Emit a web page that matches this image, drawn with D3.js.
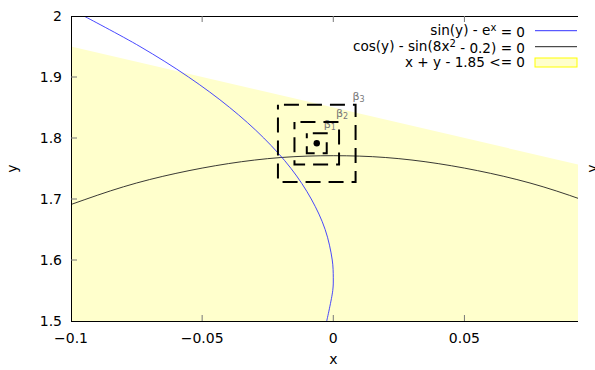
<!DOCTYPE html>
<html>
<head>
<meta charset="utf-8">
<script src="https://cdn.jsdelivr.net/npm/d3@7"></script>
<style>
  body { margin: 0; background: #fff; }
  svg { display: block; font-family: "DejaVu Sans", sans-serif; }
</style>
</head>
<body>
<script>
const width = 595;
const height = 370;

// sin(y) - e^x = 0, read along y
const blueY = [1.50, 1.55, 1.5708, 1.60, 1.65, 1.70, 1.75, 1.80, 1.85, 1.90, 1.95, 2.00];
const blueX = [-0.0025, -0.0002, 0, -0.0004, -0.0031, -0.0084, -0.0161, -0.0265, -0.0395, -0.0552, -0.0737, -0.0951];

// cos(y) - sin(8x^2 - 0.2) = 0
const blackX = [-0.10, -0.08, -0.06, -0.04, -0.02, 0, 0.02, 0.04, 0.06, 0.08, 0.10];
const blackY = [1.691, 1.720, 1.742, 1.758, 1.768, 1.771, 1.768, 1.758, 1.742, 1.720, 1.691];

// x + y - 1.85 <= 0 (upper edge of the region)
const regionX = [-0.10, 0.10];
const regionTop = [1.95, 1.75];

// point and the three nested boxes around it
const pointX = -0.0063;
const pointY = 1.7913;
const boxNames = ['1', '2', '3'];
const boxHalfX = [0.0038, 0.0085, 0.0148];
const boxHalfY = [0.0164, 0.0348, 0.0634];

const xTicks = [-0.1, -0.05, 0, 0.05];
const yTicks = [1.5, 1.6, 1.7, 1.8, 1.9, 2];

const legendLabels = ['sin(y) - e', 'cos(y) - sin(8x', 'x + y - 1.85 <= 0'];

const margin = { top: 16, right: 17, bottom: 49, left: 71 };

const x = d3.scaleLinear([-0.1, 0.0933], [margin.left, width - margin.right]);
const y = d3.scaleLinear([1.5, 2], [height - margin.bottom, margin.top]);

const svg = d3.select('body')
  .append('svg')
  .attr('width', width)
  .attr('height', height)
  .style('font-size', '14px');

svg.append('clipPath')
  .attr('id', 'plot-clip')
  .append('rect')
    .attr('x', margin.left)
    .attr('y', margin.top)
    .attr('width', x.range()[1] - margin.left)
    .attr('height', y.range()[0] - margin.top);

const plot = svg.append('g').attr('clip-path', 'url(#plot-clip)');

// feasible region
const regionPts = [[regionX[0], 1.5]]
  .concat(regionX.map((d, i) => [d, regionTop[i]]))
  .concat([[regionX[1], 1.5]]);

plot.append('path')
  .attr('d', d3.line().x(d => x(d[0])).y(d => y(d[1]))(regionPts) + 'Z')
  .attr('fill', '#ffffcc');

plot.append('path')
  .datum(blackX.map((d, i) => [d, blackY[i]]))
  .attr('fill', 'none')
  .attr('stroke', '#222')
  .attr('stroke-width', 0.9)
  .attr('d', d3.line().curve(d3.curveNatural).x(d => x(d[0])).y(d => y(d[1])));

plot.append('path')
  .datum(blueY.map((d, i) => [blueX[i], d]))
  .attr('fill', 'none')
  .attr('stroke', '#3333ff')
  .attr('stroke-width', 0.9)
  .attr('d', d3.line().curve(d3.curveCatmullRom).x(d => x(d[0])).y(d => y(d[1])));

// boxes
const boxes = svg.append('g')
  .selectAll('g')
  .data(boxNames.map((name, i) => ({ name, hx: boxHalfX[i], hy: boxHalfY[i] })))
  .join('g');

boxes.append('rect')
  .attr('x', d => x(pointX - d.hx))
  .attr('y', d => y(pointY + d.hy))
  .attr('width', d => x(pointX + d.hx) - x(pointX - d.hx))
  .attr('height', d => y(pointY - d.hy) - y(pointY + d.hy))
  .attr('fill', 'none')
  .attr('stroke', '#000')
  .attr('stroke-width', 2)
  .attr('stroke-dasharray', '15,8')
  .attr('stroke-dashoffset', -6);

const boxLabel = boxes.append('text')
  .attr('x', d => x(pointX + d.hx) - 3)
  .attr('y', d => y(pointY + d.hy) - 5)
  .attr('fill', '#777')
  .style('font-size', '11px')
  .text('β');

boxLabel.append('tspan')
  .attr('dy', 2)
  .style('font-size', '8px')
  .text(d => d.name);

svg.append('circle')
  .attr('cx', x(pointX))
  .attr('cy', y(pointY))
  .attr('r', 3.2)
  .attr('fill', '#000');

// border
const x0 = margin.left, x1 = x.range()[1];
const yb = y.range()[0], yt = margin.top;
svg.append('path')
  .attr('d', `M${x1},${yt}H${x0}V${yb}H${x1}`)
  .attr('fill', 'none')
  .attr('stroke', '#000')
  .attr('stroke-width', 1)
  .attr('shape-rendering', 'crispEdges');

// ticks, inward
const tickLen = 6;
svg.append('g')
  .selectAll('line')
  .data(xTicks.slice(1))
  .join('line')
    .attr('x1', d => x(d)).attr('x2', d => x(d))
    .attr('y1', yb).attr('y2', yb - tickLen)
    .attr('stroke', '#777');

svg.append('g')
  .selectAll('line')
  .data(xTicks.slice(1))
  .join('line')
    .attr('x1', d => x(d)).attr('x2', d => x(d))
    .attr('y1', yt).attr('y2', yt + tickLen)
    .attr('stroke', '#777');

svg.append('g')
  .selectAll('line')
  .data(yTicks.slice(1, -1))
  .join('line')
    .attr('x1', x0).attr('x2', x0 + tickLen)
    .attr('y1', d => y(d)).attr('y2', d => y(d))
    .attr('stroke', '#777');

// tick labels
svg.append('g')
  .selectAll('text')
  .data(xTicks)
  .join('text')
    .attr('x', d => x(d))
    .attr('y', yb + 22)
    .attr('text-anchor', 'middle')
    .text(d => d3.format('')(d));

svg.append('g')
  .selectAll('text')
  .data(yTicks)
  .join('text')
    .attr('x', x0 - 9)
    .attr('y', d => y(d))
    .attr('dy', '0.35em')
    .attr('text-anchor', 'end')
    .text(d => d3.format('')(d));

// axis titles
svg.append('text')
  .attr('x', x(0))
  .attr('y', height - 6)
  .attr('text-anchor', 'middle')
  .text('x');

svg.append('text')
  .attr('transform', `translate(17,${y(1.75)}) rotate(-90)`)
  .attr('text-anchor', 'middle')
  .text('y');

svg.append('text')
  .attr('transform', `translate(597,${y(1.75)}) rotate(-90)`)
  .attr('text-anchor', 'middle')
  .text('y');

// legend
const legend = svg.append('g').style('font-size', '13.6px');
const rowY = [30.7, 46.7, 62.5];
const textRight = 525;
const sampleX = [535, 577];

const t0 = legend.append('text')
  .attr('x', textRight).attr('y', rowY[0]).attr('dy', '0.35em')
  .attr('text-anchor', 'end');
t0.append('tspan').text(legendLabels[0]);
t0.append('tspan').attr('dy', '-0.45em').style('font-size', '10px').text('x');
t0.append('tspan').attr('dy', '0.45em').text(' = 0');

const t1 = legend.append('text')
  .attr('x', textRight).attr('y', rowY[1]).attr('dy', '0.35em')
  .attr('text-anchor', 'end');
t1.append('tspan').text(legendLabels[1]);
t1.append('tspan').attr('dy', '-0.45em').style('font-size', '10px').text('2');
t1.append('tspan').attr('dy', '0.45em').text(' - 0.2) = 0');

legend.append('text')
  .attr('x', textRight).attr('y', rowY[2]).attr('dy', '0.35em')
  .attr('text-anchor', 'end')
  .text(legendLabels[2]);

legend.append('line')
  .attr('x1', sampleX[0]).attr('x2', sampleX[1])
  .attr('y1', rowY[0]).attr('y2', rowY[0])
  .attr('stroke', '#3333ff');

legend.append('line')
  .attr('x1', sampleX[0]).attr('x2', sampleX[1])
  .attr('y1', rowY[1]).attr('y2', rowY[1])
  .attr('stroke', '#222');

legend.append('rect')
  .attr('x', sampleX[0]).attr('y', rowY[2] - 4.5)
  .attr('width', sampleX[1] - sampleX[0]).attr('height', 9)
  .attr('fill', '#ffffcc')
  .attr('stroke', '#ffff00');
</script>
</body>
</html>
